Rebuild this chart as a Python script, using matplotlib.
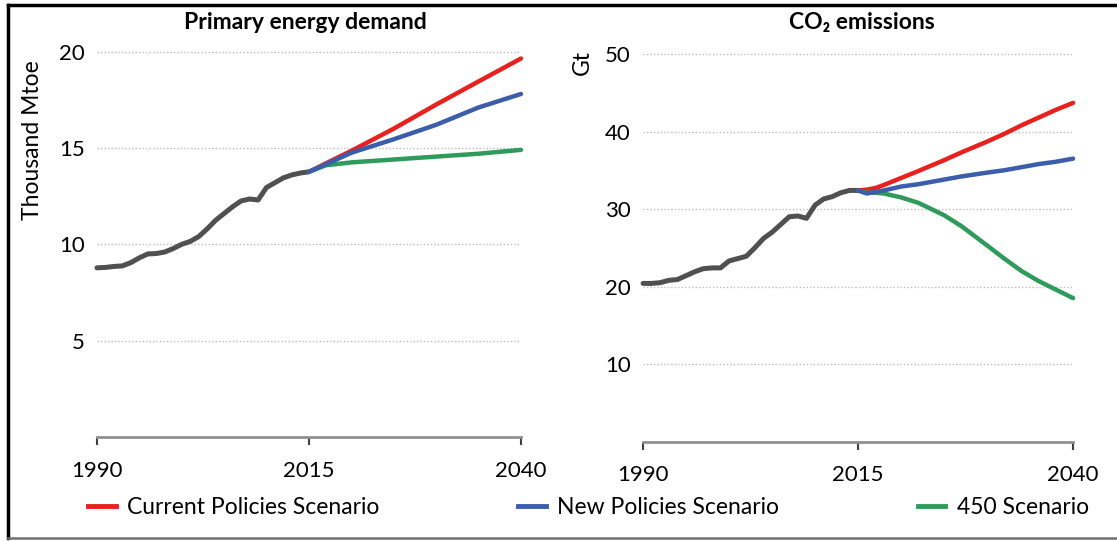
import matplotlib.pyplot as plt
from matplotlib.lines import Line2D

plt.rcParams['font.family'] = ['Lato', 'DejaVu Sans']

# historical data
hist_years = list(range(1990, 2016))
energy_hist = [8.78, 8.80, 8.85, 8.88, 9.05, 9.30, 9.50, 9.52, 9.60, 9.78,
               10.0, 10.15, 10.40, 10.80, 11.25, 11.60, 11.95, 12.25, 12.35, 12.30,
               12.95, 13.20, 13.45, 13.60, 13.70, 13.76]
co2_hist = [20.4, 20.4, 20.5, 20.8, 20.9, 21.4, 21.9, 22.3, 22.4, 22.4,
            23.3, 23.6, 23.9, 25.0, 26.2, 27.0, 28.0, 29.0, 29.1, 28.8,
            30.5, 31.3, 31.6, 32.1, 32.4, 32.4]

# scenario projections
energy_years = [2015, 2017, 2020, 2025, 2030, 2035, 2040]
energy_cps = [13.76, 14.20, 14.85, 16.00, 17.25, 18.45, 19.64]
energy_nps = [13.76, 14.15, 14.75, 15.45, 16.20, 17.10, 17.80]
energy_450 = [13.76, 14.10, 14.25, 14.40, 14.55, 14.70, 14.90]

co2_years = [2015, 2016, 2017, 2018, 2020, 2022, 2025, 2027, 2030, 2032, 2034, 2036, 2038, 2040]
co2_cps = [32.4, 32.5, 32.7, 33.1, 34.0, 34.9, 36.3, 37.3, 38.7, 39.7, 40.8, 41.8, 42.8, 43.7]
co2_nps = [32.4, 32.0, 32.2, 32.4, 32.9, 33.2, 33.8, 34.2, 34.7, 35.0, 35.4, 35.8, 36.1, 36.5]
co2_450 = [32.4, 32.1, 32.1, 32.0, 31.5, 30.8, 29.2, 27.8, 25.3, 23.6, 22.0, 20.7, 19.6, 18.5]

scenario_names = ['Current Policies Scenario', 'New Policies Scenario', '450 Scenario']
colors = ['#E8201E', '#3B5DAA', '#2E9B5C']
gray = '#505050'

fig = plt.figure(figsize=(11.17, 5.41), dpi=100)


def setup(ax, ymax, yticks):
    ax.set_xlim(1990, 2040)
    ax.set_ylim(0, ymax)
    for s in ['top', 'right', 'left']:
        ax.spines[s].set_visible(False)
    ax.spines['bottom'].set_color('#909090')
    ax.spines['bottom'].set_linewidth(2)
    ax.set_xticks([1990, 2015, 2040])
    ax.set_yticks(yticks)
    ax.tick_params(axis='x', direction='out', length=6, width=1.5, color='#404040',
                   labelsize=16, pad=11)
    ax.tick_params(axis='y', length=0, labelsize=16, pad=9)
    for y in yticks:
        ax.axhline(y, color='#BDBDBD', lw=1, ls=(0, (1, 1.5)), zorder=0)


ax1 = fig.add_axes([0.0868, 0.1922, 0.3796, 0.7481])
setup(ax1, 21, [5, 10, 15, 20])
ax1.plot(hist_years, energy_hist, color=gray, lw=3.6, clip_on=False, solid_capstyle='round')
for vals, c in zip([energy_cps, energy_450, energy_nps], [colors[0], colors[2], colors[1]]):
    ax1.plot(energy_years, vals, color=c, lw=3.2, clip_on=False, solid_capstyle='round')
ax1.text(-0.153, 0.931, 'Thousand Mtoe', rotation=90, fontsize=16.5,
         transform=ax1.transAxes, ha='center', va='top')

ax2 = fig.add_axes([0.5757, 0.1839, 0.3850, 0.7449])
setup(ax2, 52, [10, 20, 30, 40, 50])
ax2.plot(hist_years, co2_hist, color=gray, lw=3.6, clip_on=False, solid_capstyle='round')
for vals, c in zip([co2_cps, co2_450, co2_nps], [colors[0], colors[2], colors[1]]):
    ax2.plot(co2_years, vals, color=c, lw=3.2, clip_on=False, solid_capstyle='round')
ax2.text(-0.14, 0.971, 'Gt', rotation=90, fontsize=16.5,
         transform=ax2.transAxes, ha='center', va='top')

fig.text(0.2735, 0.959, 'Primary energy demand', fontsize=16.5, fontweight='bold',
         ha='center', va='center')
fig.text(0.7715, 0.959, 'CO\u2082 emissions', fontsize=16.5, fontweight='bold',
         ha='center', va='center')

handles = [Line2D([], [], color=c, lw=3.5) for c in colors]
fig.legend(handles, scenario_names, loc='center left', bbox_to_anchor=(0.079, 0.061),
           ncol=3, frameon=False, fontsize=16.5, handlelength=1.2, handletextpad=0.5,
           columnspacing=6.05, borderpad=0, borderaxespad=0)

# frame around the figure
fig.add_artist(Line2D([0.0075, 0.0075], [0.005, 0.99], color='black', lw=2.5))
fig.add_artist(Line2D([0.0075, 1.0], [0.99, 0.99], color='black', lw=2.5))
fig.add_artist(Line2D([0.0075, 1.0], [0.006, 0.006], color='#707070', lw=1.8))

fig.savefig('out.png', dpi=100)
